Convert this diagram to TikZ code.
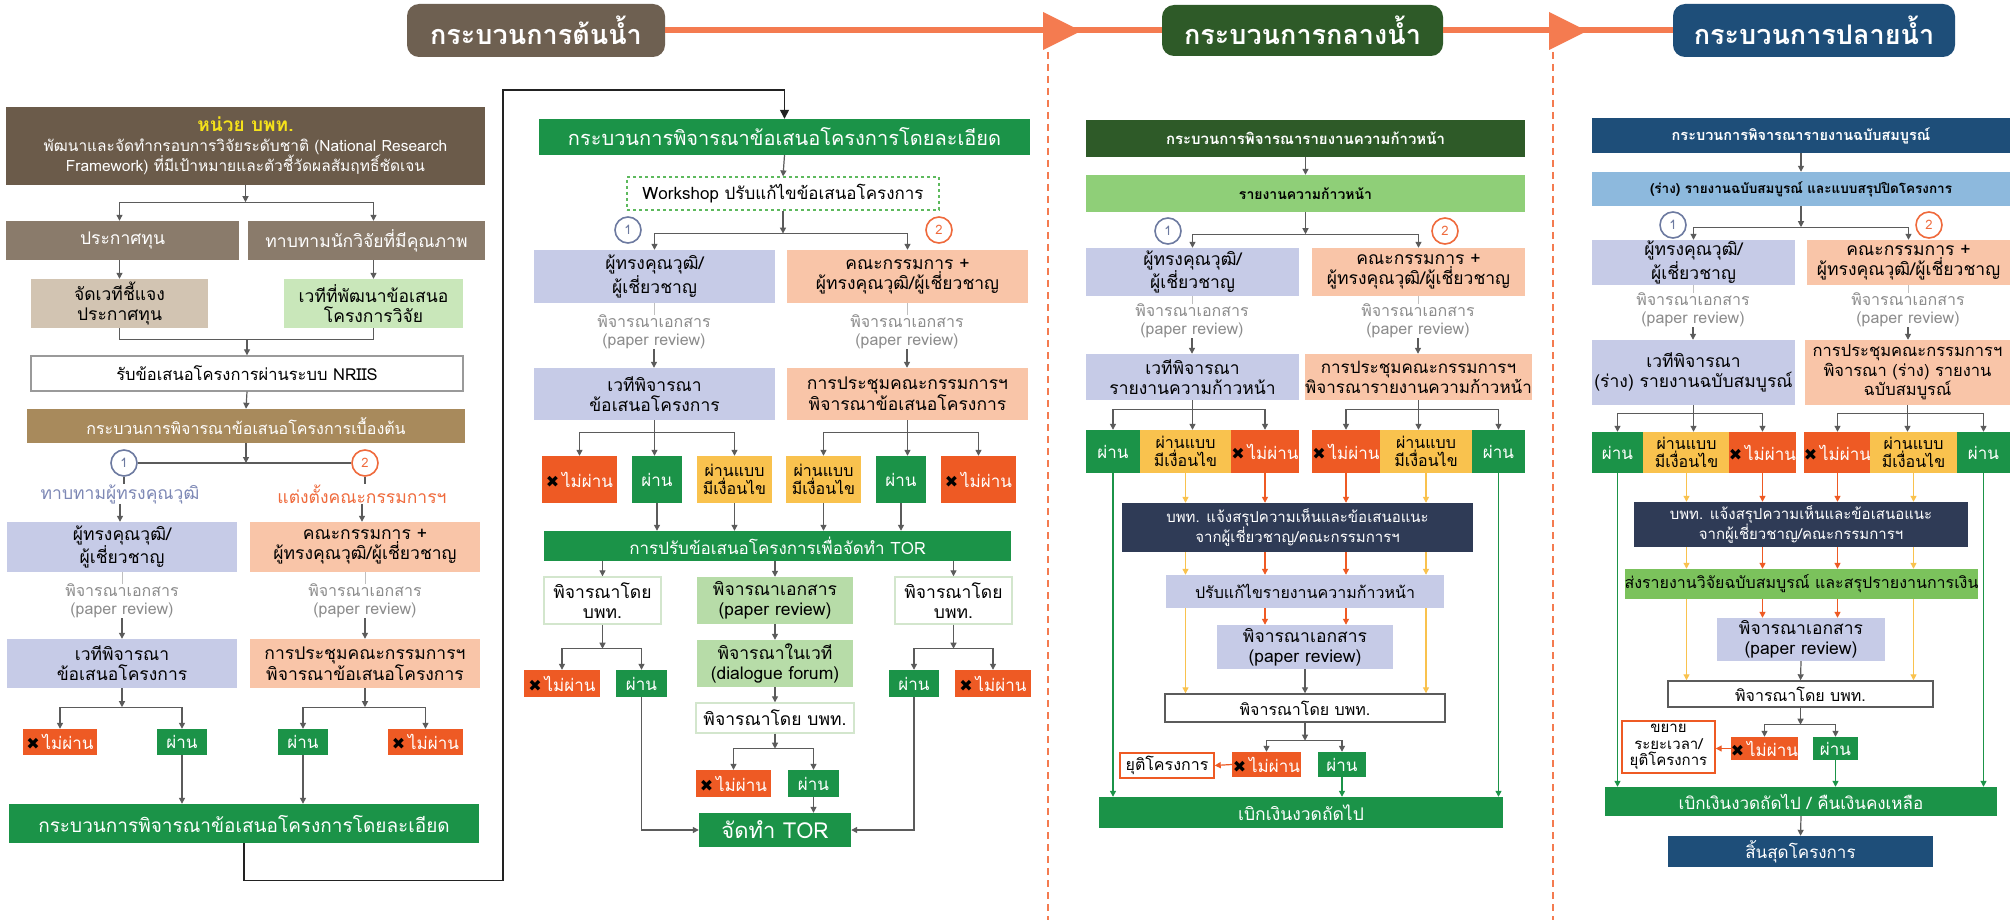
\documentclass[tikz,border=0pt]{standalone}
\usepackage{fontspec}
\setmainfont[Script=Thai]{Loma}
\newfontfamily\symf{DejaVu Sans}
\usetikzlibrary{arrows.meta,calc}
\definecolor{hdrA}{HTML}{6E6051}
\definecolor{brA}{HTML}{6B5B4A}
\definecolor{brB}{HTML}{8A7B6B}
\definecolor{tanc}{HTML}{D2C4B2}
\definecolor{lgr}{HTML}{C9E7BA}
\definecolor{gold}{HTML}{A88A5C}
\definecolor{bgray}{HTML}{9A9A9A}
\definecolor{lav}{HTML}{C6CBE7}
\definecolor{sal}{HTML}{F9C5A8}
\definecolor{cRed}{HTML}{EE5A24}
\definecolor{cGreen}{HTML}{1B9348}
\definecolor{cYel}{HTML}{F9C24E}
\definecolor{cOr}{HTML}{F47B50}
\definecolor{c1}{HTML}{6D7AA0}
\definecolor{c1t}{HTML}{7D88B5}
\definecolor{c2}{HTML}{EF6A3C}
\definecolor{pgr}{HTML}{8C8C8C}
\definecolor{wsg}{HTML}{5DB95D}
\definecolor{pgreen}{HTML}{B7DCA8}
\definecolor{wgb}{HTML}{D3E6CD}
\definecolor{hdrB}{HTML}{2E5A28}
\definecolor{mg}{HTML}{8FCF78}
\definecolor{navy}{HTML}{2F3B56}
\definecolor{hdrC}{HTML}{1E4E79}
\definecolor{lblue}{HTML}{8DB9DD}
\definecolor{gtwo}{HTML}{7BC25C}
\definecolor{ylw}{HTML}{F6E21A}
\definecolor{gc}{HTML}{5B5B5B}
\definecolor{lpc}{HTML}{222222}
\newcommand\fz[2]{\fontsize{#1}{#2}\selectfont}
\newcommand\xm{{\symf\fz{16}{16}\textcolor{black}{✖}}\,}
\newcommand\bx[7]{%
  \pgfmathsetmacro\bxcx{(#3+#5)/2}\pgfmathsetmacro\bxcy{(#4+#6)/2}%
  \pgfmathsetmacro\bxw{#5-#3}\pgfmathsetmacro\bxh{#6-#4}%
  \node[#2, minimum width=\bxw pt, minimum height=\bxh pt] (#1) at (\bxcx,\bxcy) {#7};}
\newcommand\prt{พิจารณาเอกสาร\\(paper review)}
\begin{document}
\begin{tikzpicture}[x=1pt,y=-1pt,
  bbase/.style={inner sep=0pt, align=center, font=\fz{17.5}{20}, text=black},
  fl/.style={bbase, fill=#1},
  wt/.style={text=white},
  hdr/.style={bbase, fill=#1, rounded corners=12pt, text=white, font=\fz{27}{30}\bfseries},
  pr/.style={inner sep=0pt, align=center, text=pgr, font=\fz{16}{18}},
  circ/.style={circle, draw=#1, text=#1, line width=1.6pt, fill=white, minimum size=26pt, inner sep=0pt, font=\fz{13}{13}},
  ln/.style={draw=gc, line width=1.2pt},
  arr/.style={ln, -{Triangle[length=6pt,width=6pt]}},
  yarr/.style={arr, draw=cYel},
  rarr/.style={arr, draw=cRed},
  garr/.style={arr, draw=cGreen},
  tick/.style={draw=gray!50, line width=1pt},
  pass/.style={fl=cGreen, wt, font=\fz{17}{19}},
  fail/.style={fl=cRed, wt, font=\fz{17}{19}},
  cond/.style={fl=cYel, font=\fz{16}{17.5}},
  wbox/.style={bbase, fill=white, draw=#1, line width=1.4pt},
]
\fill[white] (0,0) rectangle (2014,920);
\useasboundingbox (0,0) rectangle (2014,920);

% ---------------- banner ----------------
\bx{h1}{hdr=hdrA}{407}{4}{665}{57}{กระบวนการต้นน้ำ}
\bx{h2}{hdr=hdrB}{1162}{5}{1443}{56}{กระบวนการกลางน้ำ}
\bx{h3}{hdr=hdrC}{1673}{4}{1955}{57}{กระบวนการปลายน้ำ}
\draw[cOr, line width=6pt] (h1.east) -- (h2.west);
\draw[cOr, line width=6pt] (h2.east) -- (h3.west);
\fill[cOr] (1043,12) -- (1081,31) -- (1043,50) -- cycle;
\fill[cOr] (1549,12) -- (1587,31) -- (1549,50) -- cycle;
\draw[cOr, line width=1.6pt, dash pattern=on 7pt off 5pt] (1048,52) -- (1048,920);
\draw[cOr, line width=1.6pt, dash pattern=on 7pt off 5pt] (1553,52) -- (1553,920);

% ---------------- section 1 ----------------
\bx{s1top}{fl=brA,wt,font=\fz{15.5}{20}}{6}{107}{485}{185}{{\color{ylw}\bfseries\fz{19}{22}หน่วย บพท.}\\พัฒนาและจัดทำกรอบการวิจัยระดับชาติ (National Research\\Framework) ที่มีเป้าหมายและตัวชี้วัดผลสัมฤทธิ์ชัดเจน}
\bx{s1a}{fl=brB,wt}{6}{221}{239}{260}{ประกาศทุน}
\bx{s1b}{fl=brB,wt}{248}{221}{485}{260}{ทาบทามนักวิจัยที่มีคุณภาพ}
\bx{s1c}{fl=tanc}{31}{279}{208}{328}{จัดเวทีชี้แจง\\ประกาศทุน}
\bx{s1d}{fl=lgr}{284}{279}{463}{328}{เวทีที่พัฒนาข้อเสนอ\\โครงการวิจัย}
\bx{s1e}{wbox=bgray,font=\fz{16.5}{19}}{31}{356}{463}{391}{รับข้อเสนอโครงการผ่านระบบ NRIIS}
\bx{s1f}{fl=gold,wt,font=\fz{16}{19}}{27}{409}{465}{443}{กระบวนการพิจารณาข้อเสนอโครงการเบื้องต้น}
\node[circ=c1] (s1c1) at (124,463) {1};
\node[circ=c2] (s1c2) at (365,463) {2};
\node[bbase,text=c1t] (s1t1) at (120,494) {ทาบทามผู้ทรงคุณวุฒิ};
\node[bbase,text=c2] (s1t2) at (362,494) {แต่งตั้งคณะกรรมการฯ};
\bx{s1g}{fl=lav}{7}{522}{237}{572}{ผู้ทรงคุณวุฒิ/\\ผู้เชี่ยวชาญ}
\bx{s1h}{fl=sal}{250}{522}{480}{572}{คณะกรรมการ +\\ผู้ทรงคุณวุฒิ/ผู้เชี่ยวชาญ}
\node[pr] (s1p1) at (122,601) {\prt};
\node[pr] (s1p2) at (365,601) {\prt};
\bx{s1i}{fl=lav}{7}{639}{237}{688}{เวทีพิจารณา\\ข้อเสนอโครงการ}
\bx{s1j}{fl=sal}{250}{639}{480}{688}{การประชุมคณะกรรมการฯ\\พิจารณาข้อเสนอโครงการ}
\bx{s1k}{fail}{23}{729}{97}{755}{\xm ไม่ผ่าน}
\bx{s1l}{pass}{157}{729}{207}{755}{ผ่าน}
\bx{s1m}{pass}{278}{729}{328}{755}{ผ่าน}
\bx{s1n}{fail}{388}{729}{463}{755}{\xm ไม่ผ่าน}
\bx{s1o}{fl=cGreen,wt,font=\fz{19}{22}}{9}{804}{479}{843}{กระบวนการพิจารณาข้อเสนอโครงการโดยละเอียด}

\coordinate (j1) at ([yshift=-17pt]s1top.south);
\draw[arr] (s1top.south) -- (j1);
\draw[arr] (j1) -| (s1c.north |- s1a.north);
\draw[arr] (j1) -| (s1d.north |- s1b.north);
\draw[arr] (s1a.south -| s1c.north) -- (s1c.north);
\draw[arr] (s1b.south -| s1d.north) -- (s1d.north);
\coordinate (j2) at ([yshift=16pt]s1e.north);
\draw[ln] (s1c.south) |- (j2) -| (s1d.south);
\draw[arr] (j2) -- (s1e.north);
\draw[arr] (s1e.south) -- (s1f.north);
\draw[ln] (s1c1.east) -- (s1c2.west);
\draw[arr] (s1f.south) -- (s1f.south |- s1c1.east);
\draw[ln] (s1c1.south) -- (s1c1.south |- s1t1.north);
\draw[ln] (s1c2.south) -- (s1c2.south |- s1t2.north);
\draw[arr] (s1t1.south) -- (s1t1.south |- s1g.north);
\draw[arr] (s1t2.south) -- (s1t2.south |- s1h.north);
\draw[tick] (s1g.south) -- (s1g.south |- s1p1.north);
\draw[tick] (s1h.south) -- (s1h.south |- s1p2.north);
\draw[arr] (s1p1.south) -- (s1p1.south |- s1i.north);
\draw[arr] (s1p2.south) -- (s1p2.south |- s1j.north);
\coordinate (j4) at ([yshift=-19pt]s1i.south);
\draw[arr] (s1i.south) -- (j4);
\draw[arr] (j4) -| (s1k.north);
\draw[arr] (j4) -| (s1l.north);
\coordinate (j5) at ([yshift=-19pt]s1j.south);
\draw[arr] (s1j.south) -- (j5);
\draw[arr] (j5) -| (s1m.north);
\draw[arr] (j5) -| (s1n.north);
\draw[arr] (s1l.south) -- (s1l.south |- s1o.north);
\draw[arr] (s1m.south) -- (s1m.south |- s1o.north);

% ---------------- section 2 ----------------
\bx{s2a}{fl=cGreen,wt,font=\fz{20}{23}}{539}{119}{1030}{155}{กระบวนการพิจารณาข้อเสนอโครงการโดยละเอียด}
\bx{s2w}{bbase,draw=wsg,dashed,line width=1.2pt,fill=white,font=\fz{17}{20}}{627}{177}{939}{210}{Workshop ปรับแก้ไขข้อเสนอโครงการ}
\node[circ=c1] (s2c1) at (628,230) {1};
\node[circ=c2] (s2c2) at (939,230) {2};
\bx{s2b}{fl=lav}{534}{250}{775}{303}{ผู้ทรงคุณวุฒิ/\\ผู้เชี่ยวชาญ}
\bx{s2c}{fl=sal}{787}{250}{1028}{303}{คณะกรรมการ +\\ผู้ทรงคุณวุฒิ/ผู้เชี่ยวชาญ}
\node[pr] (s2p1) at (654,332) {\prt};
\node[pr] (s2p2) at (907,332) {\prt};
\bx{s2d}{fl=lav}{534}{368}{775}{420}{เวทีพิจารณา\\ข้อเสนอโครงการ}
\bx{s2e}{fl=sal}{787}{368}{1028}{420}{การประชุมคณะกรรมการฯ\\พิจารณาข้อเสนอโครงการ}
\bx{s2f}{fail}{542}{456}{617}{503}{\xm ไม่ผ่าน}
\bx{s2g}{pass}{632}{456}{682}{503}{ผ่าน}
\bx{s2h}{cond}{697}{456}{772}{503}{ผ่านแบบ\\มีเงื่อนไข}
\bx{s2i}{cond}{786}{456}{861}{503}{ผ่านแบบ\\มีเงื่อนไข}
\bx{s2j}{pass}{876}{456}{926}{503}{ผ่าน}
\bx{s2k}{fail}{941}{456}{1016}{503}{\xm ไม่ผ่าน}
\bx{s2l}{fl=cGreen,wt,font=\fz{17}{19}}{544}{531}{1011}{561}{การปรับข้อเสนอโครงการเพื่อจัดทำ TOR}
\bx{s2m}{wbox=wgb}{544}{577}{661}{624}{พิจารณาโดย\\บพท.}
\bx{s2n}{fl=pgreen}{697}{577}{853}{624}{พิจารณาเอกสาร\\(paper review)}
\bx{s2o}{wbox=wgb}{895}{577}{1012}{624}{พิจารณาโดย\\บพท.}
\bx{s2p}{fl=pgreen}{697}{640}{853}{687}{พิจารณาในเวที\\(dialogue forum)}
\bx{s2q}{wbox=wgb}{696}{703}{854}{733}{พิจารณาโดย บพท.}
\bx{s2r}{fail}{524}{670}{600}{697}{\xm ไม่ผ่าน}
\bx{s2s}{pass}{616}{670}{667}{697}{ผ่าน}
\bx{s2t}{pass}{889}{670}{939}{697}{ผ่าน}
\bx{s2u}{fail}{955}{670}{1031}{697}{\xm ไม่ผ่าน}
\bx{s2v}{fail}{696}{770}{771}{797}{\xm ไม่ผ่าน}
\bx{s2y}{pass}{788}{770}{839}{797}{ผ่าน}
\bx{s2x}{fl=cGreen,wt,font=\fz{22}{24}}{699}{813}{851}{847}{จัดทำ TOR}

\coordinate (lp1) at ([yshift=-37pt]s1o.south);
\coordinate (lp2) at (503,90);
\draw[draw=lpc, line width=1.3pt, -{Triangle[length=9pt,width=9pt]}] (s1o.south) -- (lp1) -| (lp2) -| (s2a.north);
\draw[arr] (s2a.south) -- (s2w.north);
\coordinate (j6) at ([yshift=-23pt]s2w.south);
\draw[arr] (s2w.south) -- (j6);
\draw[arr] (j6) -| (s2b.north);
\draw[arr] (j6) -| (s2c.north);
\draw[tick] (s2b.south) -- (s2b.south |- s2p1.north);
\draw[tick] (s2c.south) -- (s2c.south |- s2p2.north);
\draw[arr] (s2p1.south) -- (s2p1.south |- s2d.north);
\draw[arr] (s2p2.south) -- (s2p2.south |- s2e.north);
\coordinate (j7) at ([yshift=-12pt]s2d.south);
\draw[ln] (s2d.south) -- (j7);
\draw[arr] (j7) -| (s2f.north);
\draw[arr] (j7) -- (j7 |- s2g.north);
\draw[arr] (j7) -| (s2h.north);
\coordinate (j7b) at ([yshift=-12pt]s2e.south);
\draw[ln] (s2e.south) -- (j7b);
\draw[arr] (j7b) -| (s2i.north);
\draw[arr] (j7b) -- (j7b |- s2j.north);
\draw[arr] (j7b) -| (s2k.north);
\foreach \n in {s2g,s2h,s2i,s2j} \draw[arr] (\n.south) -- (\n.south |- s2l.north);
\draw[arr] (s2l.south -| s2m.north) -- (s2m.north);
\draw[arr] (s2l.south -| s2n.north) -- (s2n.north);
\draw[arr] (s2l.south -| s2o.north) -- (s2o.north);
\coordinate (j8) at ([yshift=-24pt]s2m.south);
\draw[arr] (s2m.south) -- (j8);
\draw[arr] (j8) -| (s2r.north);
\draw[arr] (j8) -| (s2s.north);
\coordinate (j9) at ([yshift=-24pt]s2o.south);
\draw[arr] (s2o.south) -- (j9);
\draw[arr] (j9) -| (s2t.north);
\draw[arr] (j9) -| (s2u.north);
\draw[arr] (s2n.south) -- (s2p.north);
\draw[arr] (s2p.south) -- (s2q.north);
\coordinate (j10) at ([yshift=-15pt]s2q.south);
\draw[arr] (s2q.south) -- (j10);
\draw[arr] (j10) -| (s2v.north);
\draw[arr] (j10) -| (s2y.north);
\draw[arr] (s2y.south) -- (s2y.south |- s2x.north);
\draw[arr] (s2s.south) |- (s2x.west);
\draw[arr] (s2t.south) |- (s2x.east);

% ---------------- section 3 ----------------
\bx{s3a}{fl=hdrB,wt,font=\fz{15}{17}\bfseries}{1086}{120}{1525}{157}{กระบวนการพิจารณารายงานความก้าวหน้า}
\bx{s3b}{fl=mg,font=\fz{14}{17}\bfseries}{1086}{175}{1525}{212}{รายงานความก้าวหน้า}
\node[circ=c1] (s3c1) at (1168,231) {1};
\node[circ=c2] (s3c2) at (1445,231) {2};
\bx{s3c}{fl=lav}{1086}{248}{1299}{296}{ผู้ทรงคุณวุฒิ/\\ผู้เชี่ยวชาญ}
\bx{s3d}{fl=sal}{1312}{248}{1525}{296}{คณะกรรมการ +\\ผู้ทรงคุณวุฒิ/ผู้เชี่ยวชาญ}
\node[pr] (s3p1) at (1192,321) {\prt};
\node[pr] (s3p2) at (1418,321) {\prt};
\bx{s3e}{fl=lav}{1086}{354}{1299}{400}{เวทีพิจารณา\\รายงานความก้าวหน้า}
\bx{s3f}{fl=sal,font=\fz{17}{20}}{1312}{354}{1525}{400}{การประชุมคณะกรรมการฯ\\พิจารณารายงานความก้าวหน้า}
\bx{s3g}{pass}{1086}{430}{1140}{473}{ผ่าน}
\bx{s3h}{cond}{1140}{430}{1231}{473}{ผ่านแบบ\\มีเงื่อนไข}
\bx{s3i}{fail}{1231}{430}{1299}{473}{\xm ไม่ผ่าน}
\bx{s3j}{fail}{1312}{430}{1380}{473}{\xm ไม่ผ่าน}
\bx{s3k}{cond}{1380}{430}{1472}{473}{ผ่านแบบ\\มีเงื่อนไข}
\bx{s3l}{pass}{1472}{430}{1525}{473}{ผ่าน}
\bx{s3m}{fl=navy,wt,font=\fz{15}{20}}{1122}{503}{1473}{552}{บพท. แจ้งสรุปความเห็นและข้อเสนอแนะ\\จากผู้เชี่ยวชาญ/คณะกรรมการฯ}
\bx{s3n}{fl=lav,font=\fz{16}{19}}{1166}{575}{1444}{608}{ปรับแก้ไขรายงานความก้าวหน้า}
\bx{s3o}{fl=lav}{1217}{625}{1393}{669}{พิจารณาเอกสาร\\(paper review)}
\bx{s3q}{wbox=gc,font=\fz{16}{19}}{1165}{694}{1445}{722}{พิจารณาโดย บพท.}
\bx{s3r}{fail}{1232}{752}{1301}{777}{\xm ไม่ผ่าน}
\bx{s3s}{pass}{1318}{752}{1366}{777}{ผ่าน}
\bx{s3t}{wbox=cRed,font=\fz{16}{19}}{1120}{753}{1214}{778}{ยุติโครงการ}
\bx{s3u}{fl=cGreen,wt,font=\fz{17.5}{21}}{1099}{797}{1503}{828}{เบิกเงินงวดถัดไป}

\draw[arr] (s3a.south) -- (s3b.north);
\coordinate (j11) at ([yshift=-22pt]s3b.south);
\draw[arr] (s3b.south) -- (j11);
\draw[arr] (j11) -| (s3c.north);
\draw[arr] (j11) -| (s3d.north);
\draw[tick] (s3c.south) -- (s3c.south |- s3p1.north);
\draw[tick] (s3d.south) -- (s3d.south |- s3p2.north);
\draw[arr] (s3p1.south) -- (s3p1.south |- s3e.north);
\draw[arr] (s3p2.south) -- (s3p2.south |- s3f.north);
\coordinate (j12) at ([yshift=-9pt]s3e.south);
\draw[ln] (s3e.south) -- (j12);
\draw[arr] (j12) -| (s3g.north);
\draw[arr] (j12) -- (j12 |- s3h.north);
\draw[arr] (j12) -| (s3i.north);
\coordinate (j12b) at ([yshift=-9pt]s3f.south);
\draw[ln] (s3f.south) -- (j12b);
\draw[arr] (j12b) -| (s3j.north);
\draw[arr] (j12b) -- (j12b |- s3k.north);
\draw[arr] (j12b) -| (s3l.north);
\draw[yarr] (s3h.south) -- (s3h.south |- s3m.north);
\draw[rarr] (s3i.south) -- (s3i.south |- s3m.north);
\draw[rarr] (s3j.south) -- (s3j.south |- s3m.north);
\draw[yarr] (s3k.south) -- (s3k.south |- s3m.north);
\draw[yarr] (s3m.south -| s3h.south) -- (s3n.north -| s3h.south);
\draw[rarr] (s3m.south -| s3i.south) -- (s3n.north -| s3i.south);
\draw[rarr] (s3m.south -| s3j.south) -- (s3n.north -| s3j.south);
\draw[yarr] (s3m.south -| s3k.south) -- (s3n.north -| s3k.south);
\draw[rarr] (s3n.south -| s3i.south) -- (s3o.north -| s3i.south);
\draw[rarr] (s3n.south -| s3j.south) -- (s3o.north -| s3j.south);
\draw[yarr] (s3n.south -| s3h.south) -- (s3q.north -| s3h.south);
\draw[yarr] (s3n.south -| s3k.south) -- (s3q.north -| s3k.south);
\draw[arr] (s3o.south) -- (s3q.north);
\coordinate (j13) at ([yshift=-18pt]s3q.south);
\draw[arr] (s3q.south) -- (j13);
\draw[arr] (j13) -| (s3r.north);
\draw[arr] (j13) -| (s3s.north);
\draw[rarr] (s3r.west) -- (s3t.east);
\draw[garr] (s3g.south) -- (s3g.south |- s3u.north);
\draw[garr] (s3l.south) -- (s3l.south |- s3u.north);
\draw[garr] (s3s.south) -- (s3s.south |- s3u.north);

% ---------------- section 4 ----------------
\bx{s4a}{fl=hdrC,wt,font=\fz{14.5}{17}\bfseries}{1592}{118}{2010}{153}{กระบวนการพิจารณารายงานฉบับสมบูรณ์}
\bx{s4b}{fl=lblue,font=\fz{13.5}{17}\bfseries}{1592}{172}{2010}{206}{(ร่าง) รายงานฉบับสมบูรณ์ และแบบสรุปปิดโครงการ}
\node[circ=c1] (s4c1) at (1673,225) {1};
\node[circ=c2] (s4c2) at (1929,225) {2};
\bx{s4c}{fl=lav}{1592}{240}{1795}{285}{ผู้ทรงคุณวุฒิ/\\ผู้เชี่ยวชาญ}
\bx{s4d}{fl=sal}{1807}{240}{2010}{285}{คณะกรรมการ +\\ผู้ทรงคุณวุฒิ/ผู้เชี่ยวชาญ}
\node[pr] (s4p1) at (1693,310) {\prt};
\node[pr] (s4p2) at (1908,310) {\prt};
\bx{s4e}{fl=lav}{1592}{340}{1795}{405}{เวทีพิจารณา\\(ร่าง) รายงานฉบับสมบูรณ์}
\bx{s4f}{fl=sal,font=\fz{16.5}{19.5}}{1805}{340}{2010}{405}{การประชุมคณะกรรมการฯ\\พิจารณา (ร่าง) รายงาน\\ฉบับสมบูรณ์}
\bx{s4g}{pass}{1592}{432}{1643}{473}{ผ่าน}
\bx{s4h}{cond}{1643}{432}{1730}{473}{ผ่านแบบ\\มีเงื่อนไข}
\bx{s4i}{fail}{1730}{432}{1795}{473}{\xm ไม่ผ่าน}
\bx{s4j}{fail}{1805}{432}{1870}{473}{\xm ไม่ผ่าน}
\bx{s4k}{cond}{1870}{432}{1957}{473}{ผ่านแบบ\\มีเงื่อนไข}
\bx{s4l}{pass}{1957}{432}{2010}{473}{ผ่าน}
\bx{s4m}{fl=navy,wt,font=\fz{15}{20}}{1634}{502}{1968}{547}{บพท. แจ้งสรุปความเห็นและข้อเสนอแนะ\\จากผู้เชี่ยวชาญ/คณะกรรมการฯ}
\bx{s4n}{fl=gtwo,font=\fz{16}{19}}{1625}{569}{1978}{599}{ส่งรายงานวิจัยฉบับสมบูรณ์ และสรุปรายงานการเงิน}
\bx{s4o}{fl=lav}{1717}{618}{1885}{661}{พิจารณาเอกสาร\\(paper review)}
\bx{s4q}{wbox=gc,font=\fz{16}{19}}{1668}{681}{1933}{707}{พิจารณาโดย บพท.}
\bx{s4r}{fail}{1732}{737}{1797}{760}{\xm ไม่ผ่าน}
\bx{s4s}{pass}{1813}{737}{1858}{760}{ผ่าน}
\bx{s4t}{wbox=cRed,font=\fz{15}{16.5}}{1622}{721}{1715}{773}{ขยาย\\ระยะเวลา/\\ยุติโครงการ}
\bx{s4u}{fl=cGreen,wt,font=\fz{17}{21}}{1605}{787}{1997}{816}{เบิกเงินงวดถัดไป / คืนเงินคงเหลือ}
\bx{s4v}{fl=hdrC,wt,font=\fz{17}{21}}{1668}{836}{1933}{867}{สิ้นสุดโครงการ}

\draw[arr] (s4a.south) -- (s4b.north);
\coordinate (j14) at ([yshift=-21pt]s4b.south);
\draw[arr] (s4b.south) -- (j14);
\draw[arr] (j14) -| (s4c.north);
\draw[arr] (j14) -| (s4d.north);
\draw[tick] (s4c.south) -- (s4c.south |- s4p1.north);
\draw[tick] (s4d.south) -- (s4d.south |- s4p2.north);
\draw[arr] (s4p1.south) -- (s4p1.south |- s4e.north);
\draw[arr] (s4p2.south) -- (s4p2.south |- s4f.north);
\coordinate (j15) at ([yshift=-8pt]s4e.south);
\draw[ln] (s4e.south) -- (j15);
\draw[arr] (j15) -| (s4g.north);
\draw[arr] (j15) -- (j15 |- s4h.north);
\draw[arr] (j15) -| (s4i.north);
\coordinate (j15b) at ([yshift=-8pt]s4f.south);
\draw[ln] (s4f.south) -- (j15b);
\draw[arr] (j15b) -| (s4j.north);
\draw[arr] (j15b) -- (j15b |- s4k.north);
\draw[arr] (j15b) -| (s4l.north);
\draw[yarr] (s4h.south) -- (s4h.south |- s4m.north);
\draw[rarr] (s4i.south) -- (s4i.south |- s4m.north);
\draw[rarr] (s4j.south) -- (s4j.south |- s4m.north);
\draw[yarr] (s4k.south) -- (s4k.south |- s4m.north);
\draw[yarr] (s4m.south -| s4h.south) -- (s4n.north -| s4h.south);
\draw[rarr] (s4m.south -| s4i.south) -- (s4n.north -| s4i.south);
\draw[rarr] (s4m.south -| s4j.south) -- (s4n.north -| s4j.south);
\draw[yarr] (s4m.south -| s4k.south) -- (s4n.north -| s4k.south);
\draw[rarr] (s4n.south -| s4i.south) -- (s4o.north -| s4i.south);
\draw[rarr] (s4n.south -| s4j.south) -- (s4o.north -| s4j.south);
\draw[yarr] (s4n.south -| s4h.south) -- (s4q.north -| s4h.south);
\draw[yarr] (s4n.south -| s4k.south) -- (s4q.north -| s4k.south);
\draw[arr] (s4o.south) -- (s4q.north);
\coordinate (j16) at ([yshift=-17pt]s4q.south);
\draw[arr] (s4q.south) -- (j16);
\draw[arr] (j16) -| (s4r.north);
\draw[arr] (j16) -| (s4s.north);
\draw[rarr] (s4r.west) -- (s4t.east |- s4r.west);
\draw[garr] (s4g.south) -- (s4g.south |- s4u.north);
\draw[garr] (s4l.south) -- (s4l.south |- s4u.north);
\draw[garr] (s4s.south) -- (s4s.south |- s4u.north);
\draw[arr] (s4u.south) -- (s4v.north);
\end{tikzpicture}
\end{document}
